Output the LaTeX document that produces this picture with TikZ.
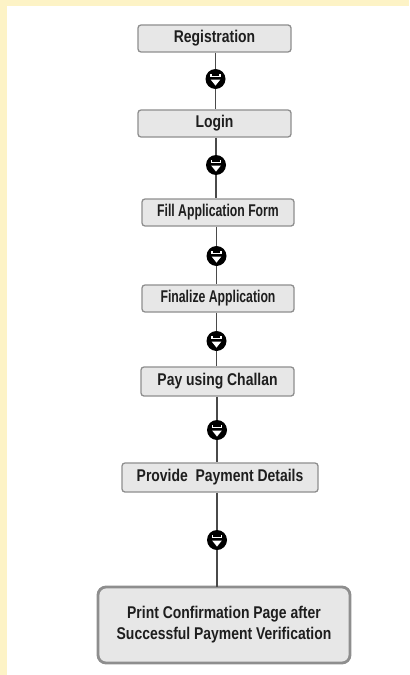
\documentclass[tikz,border=0pt]{standalone}
\usepackage{fontspec}
\setmainfont{Liberation Sans}
\newfontfamily\normfont{Liberation Sans}[FakeStretch=0.82]
\newfontfamily\condfont{Liberation Sans}[FakeStretch=0.72]
\definecolor{bgyellow}{HTML}{FDF3C6}
\definecolor{boxfill}{HTML}{E7E7E7}
\definecolor{boxline}{HTML}{8E8E8E}
\definecolor{linegray}{HTML}{4A4A4A}
\definecolor{txt}{HTML}{1E1E1E}
\tikzset{
  stepbox/.style={draw=boxline, line width=1.3bp, fill=boxfill, rounded corners=3bp,
    minimum width=153bp, minimum height=27bp, inner sep=0pt, text=txt,
    font=\fontsize{17bp}{19bp}\normfont\bfseries},
  condbox/.style={stepbox, minimum width=152bp, font=\fontsize{17bp}{19bp}\condfont\bfseries},
  bigbox/.style={draw=boxline, line width=2.8bp, fill=boxfill, rounded corners=8bp,
    minimum width=252bp, minimum height=76bp, inner sep=0pt, text=txt, align=center,
    font=\fontsize{17bp}{21bp}\normfont\bfseries},
  flowdot/.style={circle, fill=black, minimum size=20bp, inner sep=0pt,
    path picture={
      \fill[white] ([xshift=-4.8bp,yshift=-0.6bp]path picture bounding box.center)
        -- ([xshift=4.8bp,yshift=-0.6bp]path picture bounding box.center)
        -- ([yshift=-6.6bp]path picture bounding box.center) -- cycle;
      \draw[white, line width=1.3bp] ([xshift=-4.4bp,yshift=4.6bp]path picture bounding box.center)
        -- ([xshift=-4.4bp,yshift=2.6bp]path picture bounding box.center)
        -- ([xshift=4.4bp,yshift=2.6bp]path picture bounding box.center)
        -- ([xshift=4.4bp,yshift=4.6bp]path picture bounding box.center);
    }},
  link/.style={draw=linegray, line width=1.3bp}
}
\begin{document}
\begin{tikzpicture}[x=1bp,y=-1bp]
\useasboundingbox (0,0) rectangle (409,675);
\fill[bgyellow] (0,0) rectangle (409,675);
\fill[white] (6.5,6.5) rectangle (409,675);

\node[stepbox] (b1) at (214.5,38.5) {Registration};
\node[stepbox] (b2) at (214.5,123.5) {Login};
\node[condbox] (b3) at (218,212.5) {Fill Application Form};
\node[condbox] (b4) at (218,298.5) {Finalize Application};
\node[stepbox, minimum height=29bp] (b5) at (217.5,381.5) {Pay using Challan};
\node[stepbox, minimum width=196bp, minimum height=29bp] (b6) at (220,477.5) {Provide\ \ Payment Details};
\node[bigbox] (b7) at (224,625) {Print Confirmation Page after\\Successful Payment Verification};

\node[flowdot] (c1) at (215.5,79) {};
\node[flowdot] (c2) at (216,165) {};
\node[flowdot] (c3) at (216.5,256) {};
\node[flowdot] (c4) at (216.5,341) {};
\node[flowdot] (c5) at (217,430) {};
\node[flowdot] (c6) at (217,540) {};

\draw[link] (c1 |- b1.south) -- (c1);
\draw[link] (c1) -- (c1 |- b2.north);
\draw[link] (c2 |- b2.south) -- (c2);
\draw[link] (c2) -- (c2 |- b3.north);
\draw[link] (c3 |- b3.south) -- (c3);
\draw[link] (c3) -- (c3 |- b4.north);
\draw[link] (c4 |- b4.south) -- (c4);
\draw[link] (c4) -- (c4 |- b5.north);
\draw[link] (c5 |- b5.south) -- (c5);
\draw[link] (c5) -- (c5 |- b6.north);
\draw[link] (c6 |- b6.south) -- (c6);
\draw[link] (c6) -- ([yshift=-1.4bp]c6 |- b7.north);
\end{tikzpicture}
\end{document}
